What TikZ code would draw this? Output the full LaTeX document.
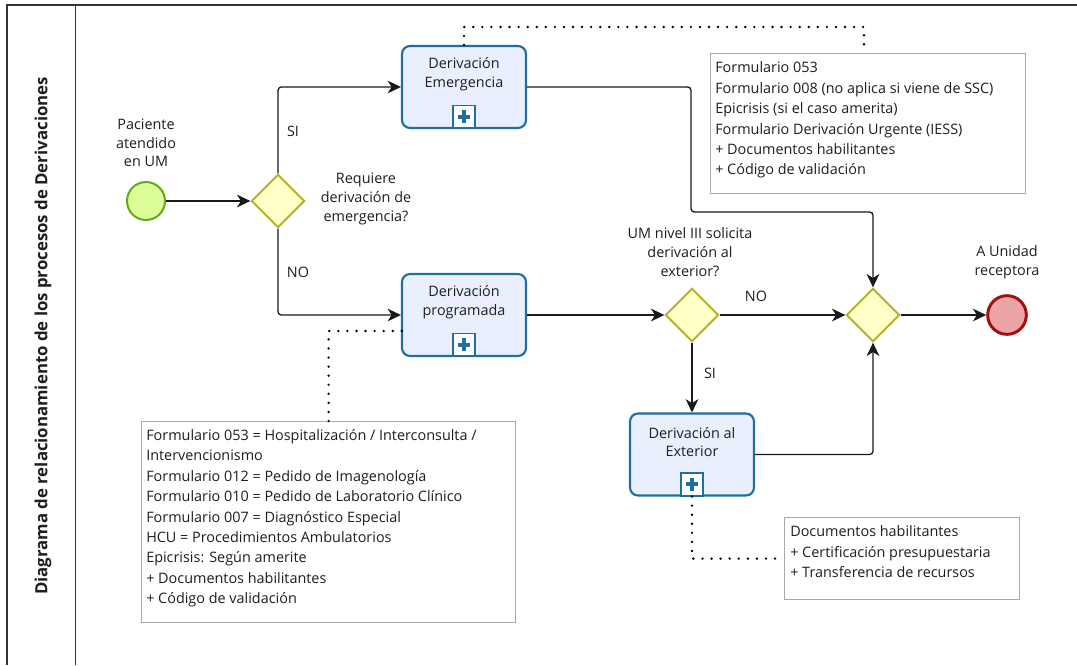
\documentclass[tikz,border=0pt]{standalone}
\usepackage{fontspec}
\setmainfont{Open Sans}
\usetikzlibrary{shapes.geometric,arrows.meta,calc}
\definecolor{taskfill}{HTML}{E9EFFD}
\definecolor{taskline}{HTML}{1F6E9E}
\definecolor{gwfill}{HTML}{FFFFC8}
\definecolor{gwline}{HTML}{B3B32A}
\definecolor{stfill}{HTML}{DDFF99}
\definecolor{stline}{HTML}{64A81A}
\definecolor{endfill}{HTML}{EBA5A5}
\definecolor{endline}{HTML}{A30D0D}
\definecolor{notegray}{HTML}{A8A8A8}
\definecolor{txt}{HTML}{1E1E1E}
\definecolor{framec}{HTML}{333333}
\begin{document}
\begin{tikzpicture}[x=0.75pt,y=-0.75pt,
  every node/.style={text=txt},
  frame/.style={draw=framec,line width=1.1pt},
  titletext/.style={font=\fontsize{12.6}{14}\selectfont\bfseries,inner sep=0pt},
  task/.style={draw=taskline,fill=taskfill,line width=1.6pt,rounded corners=6pt,minimum width=93pt,minimum height=61.5pt,inner sep=0pt},
  tasktext/.style={align=center,inner sep=0pt,font=\fontsize{10.8}{14}\selectfont},
  plusbox/.style={draw=taskline,fill=white,line width=1.4pt,minimum size=17pt,inner sep=0pt,anchor=south,
    path picture={\draw[taskline,line width=3pt] ([xshift=-4.8pt]path picture bounding box.center) -- ([xshift=4.8pt]path picture bounding box.center);
                  \draw[taskline,line width=3pt] ([yshift=-4.8pt]path picture bounding box.center) -- ([yshift=4.8pt]path picture bounding box.center);}},
  gw/.style={diamond,draw=gwline,fill=gwfill,line width=1.5pt,minimum width=40pt,minimum height=40pt,inner sep=0pt,aspect=1},
  startev/.style={circle,draw=stline,fill=stfill,line width=1.5pt,minimum size=28.5pt,inner sep=0pt},
  endev/.style={circle,draw=endline,fill=endfill,line width=2.2pt,minimum size=29pt,inner sep=0pt},
  notebox/.style={draw=notegray,fill=white,line width=0.9pt,anchor=north west,inner sep=0pt},
  notetext/.style={anchor=north west,align=left,inner sep=0pt,font=\fontsize{10.8}{15.3}\selectfont},
  lbl/.style={align=center,inner sep=0pt,font=\fontsize{10.8}{14}\selectfont},
  flow/.style={draw=black!90,line width=1pt,rounded corners=2.5pt,-{Stealth[length=10pt,width=9.5pt,inset=3pt]}},
  assoc/.style={draw=black,line width=2pt,line cap=round,dash pattern=on 0pt off 6.8pt}
]
\useasboundingbox (0,0) rectangle (1077,665);
% frame
\draw[frame] (7,665) -- (7,5) -- (1077,5);
\draw[frame] (75.5,5) -- (75.5,665);
\node[titletext,rotate=90] (title) at (43,336) {Diagrama de relacionamiento de los procesos de Derivaciones};

% notes
\node[notebox,minimum width=236.6pt,minimum height=105pt] (note1) at (709.5,53) {};
\node[notetext] (note1t) at ($(note1.north west)+(5.5,8.7)$) {Formulario 053\\Formulario 008 (no aplica si viene de SSC)\\Epicrisis (si el caso amerita)\\Formulario Derivación Urgente (IESS)\\+ Documentos habilitantes\\+ Código de validación};
\node[notebox,minimum width=280.5pt,minimum height=150.75pt] (note2) at (141,421) {};
\node[notetext] (note2t) at ($(note2.north west)+(5,8.2)$) {Formulario 053 = Hospitalización / Interconsulta /\\Intervencionismo\\Formulario 012 = Pedido de Imagenología\\Formulario 010 = Pedido de Laboratorio Clínico\\Formulario 007 = Diagnóstico Especial\\HCU = Procedimientos Ambulatorios\\Epicrisis: Según amerite\\+ Documentos habilitantes\\+ Código de validación};
\node[notebox,minimum width=176.25pt,minimum height=61.5pt] (note3) at (784,517) {};
\node[notetext] (note3t) at ($(note3.north west)+(6,8.7)$) {Documentos habilitantes\\+ Certificación presupuestaria\\+ Transferencia de recursos};

% flow nodes
\node[startev] (start) at (146,201) {};
\node[gw] (gw1) at (278,201) {};
\node[task] (emerg) at (464,87) {};
\node[task] (prog) at (464,315) {};
\node[gw] (gw2) at (692,315) {};
\node[gw] (gw3) at (873,315) {};
\node[endev] (end) at (1007,315) {};
\node[task] (ext) at (692,454.5) {};

\node[plusbox] (emergp) at (emerg.south) {};
\node[plusbox] (progp) at (prog.south) {};
\node[plusbox] (extp) at (ext.south) {};

\node[tasktext] (emergt) at ($(emerg.center)+(0,-12.5)$) {Derivación\\Emergencia};
\node[tasktext] (progt) at ($(prog.center)+(0,-13)$) {Derivación\\programada};
\node[tasktext] (extt) at ($(ext.center)+(0,-12.5)$) {Derivación al\\Exterior};

% associations
\coordinate (a1) at (864,27);
\draw[assoc] (emerg.north) |- (a1) -- (a1 |- note1.north);
\coordinate (a2) at (402,331);
\draw[assoc] (note2.north) |- (a2);
\draw[assoc] (extp.south) |- (note3.west);

% flows
\coordinate (b1) at (691,212);
\draw[flow] (start) -- (gw1);
\draw[flow] (gw1.north) |- (emerg.west);
\draw[flow] (gw1.south) |- (prog.west);
\draw[flow] (emerg.east) -| (b1) -| (gw3.north);
\draw[flow] (prog.east) -- (gw2.west);
\draw[flow] (gw2.east) -- (gw3.west);
\draw[flow] (gw2.south) -- (ext.north);
\draw[flow] (ext.east) -| (gw3.south);
\draw[flow] (gw3.east) -- (end.west);

% labels
\node[lbl] (startl) at (146,143) {Paciente\\atendido\\en UM};
\node[lbl] (gw1l) at (366,199) {Requiere\\derivación de\\emergencia?};
\node[lbl] (gw2l) at (690,252) {UM nivel III solicita\\derivación al\\exterior?};
\node[lbl] (endl) at (1007,262) {A Unidad\\receptora};
\node[lbl] (si1) at (293,131) {SI};
\node[lbl] (no1) at (298,272) {NO};
\node[lbl] (no2) at (756,296) {NO};
\node[lbl] (si2) at (710,373) {SI};
\end{tikzpicture}
\end{document}
